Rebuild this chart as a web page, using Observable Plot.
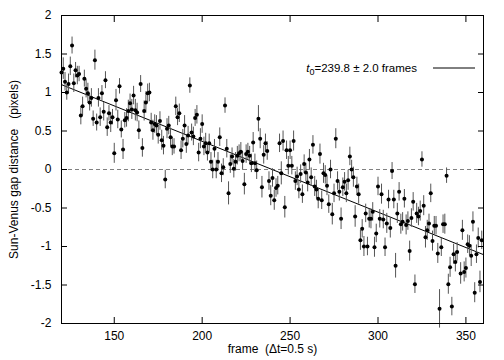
<!DOCTYPE html>
<html><head><meta charset="utf-8">
<script src="https://cdn.jsdelivr.net/npm/d3@7"></script>
<script src="https://cdn.jsdelivr.net/npm/@observablehq/plot@0.6"></script>
<style>body{margin:0;background:#fff}</style>
</head><body><div id="chart"></div>
<script>
const frames = [
120,121,122,123,124,125,126,127,128,129,
130,131,132,133,134,135,136,137,138,139,
140,141,142,143,144,145,146,147,148,149,
150,151,152,153,154,155,156,157,158,159,
160,161,162,163,164,165,166,167,168,169,
170,171,172,173,174,175,176,177,178,179,
180,181,182,183,184,185,186,187,188,189,
190,191,192,193,194,195,196,197,198,199,
200,201,202,203,204,205,206,207,208,209,
210,211,212,213,214,215,216,217,218,219,
220,221,222,223,224,225,226,227,228,229,
230,231,232,233,234,235,236,237,238,239,
240,241,242,243,244,245,246,247,248,249,
250,251,252,253,254,255,256,257,258,259,
260,261,262,263,264,265,266,267,268,269,
270,271,272,273,274,275,276,277,278,279,
280,281,282,283,284,285,286,287,288,289,
290,291,292,293,294,295,296,297,298,299,
300,301,302,303,304,305,306,307,308,309,
310,311,312,313,314,315,316,317,318,319,
320,321,322,323,324,325,326,327,328,329,
330,331,332,333,334,335,336,337,338,339,
340,341,342,343,344,345,347,348,349,
350,351,352,353,354,355,356,357,358,359];
const gaps = [
1.26,1.31,1.14,1.00,1.11,1.34,1.61,1.12,1.29,1.22,
1.24,0.70,0.82,1.18,1.05,0.99,0.87,0.93,0.66,1.42,
0.61,0.93,0.68,0.99,0.75,1.16,0.55,0.73,0.61,0.68,
0.21,0.90,0.65,1.08,0.52,0.26,0.64,0.67,0.76,0.86,
0.78,0.96,0.77,0.74,0.51,1.11,0.28,0.76,0.87,0.99,
1.00,0.61,0.51,0.59,0.57,0.45,0.63,0.38,0.31,-0.13,
0.53,0.57,0.42,0.30,0.30,0.82,0.68,0.73,0.25,0.40,
0.57,0.33,0.44,1.09,0.48,0.43,0.67,0.71,0.22,0.40,
0.59,0.30,0.34,0.22,0.34,0.10,0.00,0.27,0.00,0.10,
0.42,-0.05,0.03,0.83,0.27,-0.31,0.07,0.17,0.01,0.10,
0.18,0.21,0.23,0.11,-0.19,0.20,0.23,0.18,0.08,0.35,
0.08,-0.01,0.66,0.40,-0.23,0.19,0.34,0.24,-0.15,-0.34,
-0.11,-0.40,-0.24,-0.21,0.34,-0.05,0.37,-0.49,0.25,0.05,
0.25,0.05,0.37,-0.15,-0.09,-0.26,-0.06,-0.32,0.07,-0.04,
-0.17,0.13,-0.10,0.32,-0.22,-0.26,-0.38,0.20,-0.40,-0.05,
-0.07,-0.21,-0.45,0.00,-0.58,-0.31,0.40,-0.15,-0.29,-0.64,
-0.23,-0.16,-0.31,-0.14,0.17,0.00,-0.10,-0.61,-0.22,-0.32,
-0.92,-0.77,-1.00,-0.57,-1.00,-0.64,-0.64,-0.55,-1.01,-0.83,
-0.22,-0.64,-0.32,-0.65,-1.01,-0.70,-0.39,-0.76,-0.02,-0.39,
-1.25,-0.57,-0.29,-0.71,-0.68,-0.38,-0.72,-0.67,-1.06,-0.63,
-0.42,-1.49,-0.57,-0.61,-0.54,0.13,-0.47,-0.88,-0.79,-0.70,
-0.31,-0.93,-0.73,-0.73,-1.09,-1.81,-1.01,-0.71,-0.71,-0.08,
-1.49,-1.27,-1.78,-1.10,-1.20,-1.07,-1.35,-0.79,-1.33,
-1.28,-0.97,-0.99,-1.12,-0.68,-1.60,-1.10,-0.89,-1.46,-0.92];
const errs = [
0.12,0.14,0.12,0.10,0.13,0.12,0.11,0.12,0.10,0.12,
0.10,0.12,0.12,0.11,0.12,0.13,0.11,0.12,0.10,0.13,
0.11,0.12,0.12,0.10,0.12,0.11,0.12,0.10,0.13,0.10,
0.13,0.14,0.12,0.10,0.11,0.13,0.10,0.12,0.14,0.12,
0.13,0.12,0.14,0.12,0.12,0.11,0.12,0.13,0.14,0.12,
0.12,0.12,0.13,0.12,0.13,0.12,0.12,0.13,0.12,0.12,
0.13,0.12,0.12,0.12,0.10,0.12,0.11,0.12,0.12,0.12,
0.13,0.12,0.12,0.10,0.11,0.12,0.11,0.12,0.12,0.13,
0.12,0.12,0.13,0.11,0.12,0.12,0.12,0.12,0.12,0.12,
0.12,0.12,0.11,0.10,0.12,0.15,0.12,0.11,0.12,0.12,
0.12,0.11,0.12,0.12,0.14,0.12,0.11,0.12,0.12,0.13,
0.12,0.12,0.17,0.13,0.14,0.12,0.12,0.12,0.12,0.13,
0.12,0.13,0.12,0.12,0.12,0.15,0.13,0.14,0.12,0.12,
0.12,0.12,0.13,0.12,0.12,0.12,0.12,0.12,0.12,0.12,
0.12,0.13,0.12,0.12,0.13,0.12,0.13,0.13,0.12,0.13,
0.12,0.13,0.12,0.12,0.14,0.12,0.13,0.12,0.12,0.14,
0.12,0.12,0.12,0.13,0.12,0.12,0.13,0.14,0.12,0.13,
0.13,0.12,0.13,0.12,0.12,0.12,0.13,0.12,0.13,0.12,
0.12,0.12,0.13,0.12,0.12,0.13,0.12,0.13,0.11,0.12,
0.16,0.13,0.12,0.13,0.12,0.12,0.13,0.12,0.13,0.12,
0.12,0.12,0.13,0.12,0.13,0.10,0.13,0.14,0.13,0.12,
0.12,0.13,0.12,0.12,0.13,0.25,0.12,0.12,0.13,0.10,
0.13,0.13,0.12,0.13,0.13,0.12,0.14,0.13,0.13,
0.13,0.12,0.13,0.14,0.13,0.13,0.12,0.13,0.14,0.12];
const t0 = 239.8, t0Err = 2.0, fitSlope = -0.0092;
const fitFrames = [120, 360];
const xTicks = [150, 200, 250, 300, 350];
const yTicks = [-2, -1.5, -1, -0.5, 0, 0.5, 1, 1.5, 2];
const yTickLabels = ["-2", "-1.5", "-1", "-0.5", "0", "0.5", "1", "1.5", "2"];
const xLabel = "frame\u00a0\u00a0(\u0394t=0.5 s)";
const yLabel = "Sun-Venus gap distance\u00a0\u00a0\u00a0(pixels)";

const data = frames.map((f, i) => ({frame: f, gap: gaps[i], err: errs[i]}));
const fit = fitFrames.map(f => ({frame: f, gap: fitSlope * (f - t0)}));

const W = 504, H = 360, mL = 61, mR = 21, mT = 15, mB = 37;
const font = "'Liberation Sans', Arial, Helvetica, sans-serif";

const plot = Plot.plot({
  width: W, height: H,
  marginLeft: mL, marginRight: mR, marginTop: mT, marginBottom: mB,
  style: {fontFamily: font, fontSize: "12px", background: "#fff", color: "#000"},
  x: {domain: [120, 360]},
  y: {domain: [-2, 2]},
  marks: [
    Plot.ruleY([0], {stroke: "#808080", strokeDasharray: "4,3"}),
    Plot.line(fit, {x: "frame", y: "gap", stroke: "#000", strokeWidth: 1}),
    Plot.ruleX(data, {x: "frame", y1: d => d.gap - d.err, y2: d => d.gap + d.err, stroke: "#555", strokeWidth: 1}),
    Plot.dot(data, {x: "frame", y: "gap", r: 2, fill: "#000", stroke: null}),
    Plot.frame({stroke: "#000", strokeWidth: 1}),
    Plot.axisX(xTicks, {anchor: "bottom", tickSize: -6, fill: "none", label: null}),
    Plot.axisX(xTicks, {anchor: "top", tickSize: -6, fill: "none", label: null}),
    Plot.axisY(yTicks, {anchor: "left", tickSize: -6, fill: "none", label: null}),
    Plot.axisY(yTicks, {anchor: "right", tickSize: -6, fill: "none", label: null}),
    Plot.axisX(xTicks, {anchor: "bottom", tickSize: 0, tickPadding: 8, label: null, fontSize: 12}),
    Plot.axisY(yTicks, {anchor: "left", tickSize: 0, tickPadding: 10, label: null, fontSize: 12,
      tickFormat: d => yTickLabels[yTicks.indexOf(d)]}),
    Plot.text([xLabel], {frameAnchor: "bottom", dy: 29, fontSize: 12}),
    Plot.text([yLabel], {frameAnchor: "left", textAnchor: "middle", rotate: -90, dx: -47, fontSize: 12})
  ]
});
document.getElementById("chart").appendChild(plot);

// legend (key) in upper right of plot frame
const svg = d3.select(plot);
const right = W - mR;
const ky = mT + 53;
const lt = svg.append("text")
  .attr("x", right - 66).attr("y", ky + 4)
  .attr("text-anchor", "end").attr("font-size", 11.5).attr("font-family", font).attr("fill", "#000");
lt.append("tspan").attr("font-style", "italic").text("t");
lt.append("tspan").attr("font-size", 9).attr("dy", 3).text("0");
lt.append("tspan").attr("dy", -3).text(`=${t0.toFixed(1)} \u00b1 ${t0Err.toFixed(1)} frames`);
svg.append("line").attr("x1", right - 50).attr("x2", right - 8).attr("y1", ky).attr("y2", ky)
  .attr("stroke", "#000").attr("stroke-width", 1);
</script>
</body></html>
